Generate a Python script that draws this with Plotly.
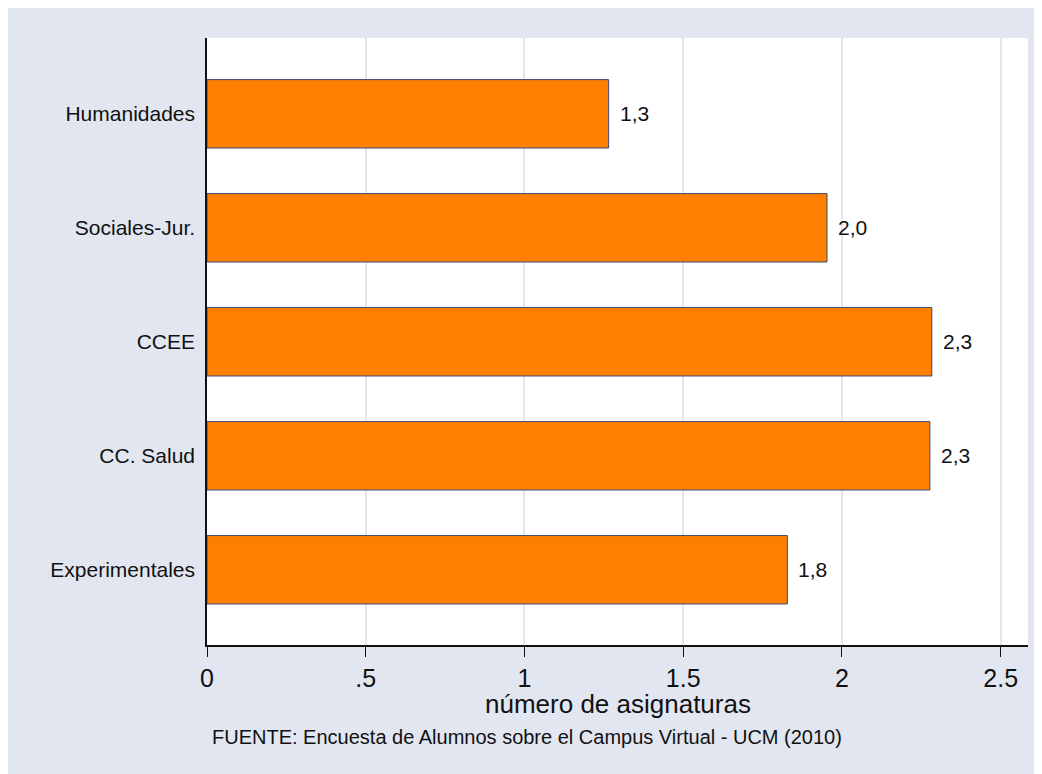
# Horizontal bar chart: average number of subjects per field (UCM 2010)
import plotly.graph_objects as go

# ==== Data ====
areas = ["Humanidades", "Sociales-Jur.", "CCEE", "CC. Salud", "Experimentales"]
asignaturas = [1.265, 1.953, 2.283, 2.277, 1.828]
etiquetas = ["1,3", "2,0", "2,3", "2,3", "1,8"]
x_ticks = [0, 0.5, 1, 1.5, 2, 2.5]
x_tick_labels = ["0", ".5", "1", "1.5", "2", "2.5"]

# ==== Style ====
FONT = "Arial, Liberation Sans, sans-serif"
BG = "#e2e6f0"
ORANGE = "#ff8000"

fig = go.Figure()
fig.add_trace(go.Bar(
    x=asignaturas, y=areas, orientation="h",
    width=0.6,
    marker=dict(color=ORANGE, line=dict(color="#3a4a78", width=1)),
    hoverinfo="x+y",
))

# value labels to the right of each bar
for area, val, lbl in zip(areas, asignaturas, etiquetas):
    fig.add_annotation(x=val, y=area, text=lbl, showarrow=False,
                       xanchor="left", xshift=9,
                       font=dict(family=FONT, size=21, color="#111"))

# axis title and source note
fig.add_annotation(x=0.5, y=-0.0965, xref="paper", yref="paper",
                   text="número de asignaturas", showarrow=False,
                   xanchor="center", yanchor="middle",
                   font=dict(family=FONT, size=26, color="#111"))
fig.add_annotation(x=0.004, y=-0.1516, xref="paper", yref="paper",
                   text="FUENTE: Encuesta de Alumnos sobre el Campus Virtual - UCM (2010)",
                   showarrow=False, xanchor="left", yanchor="middle",
                   font=dict(family=FONT, size=20, color="#111"))

# figure sized so that, with the page margin, it fills the window exactly
fig.update_layout(
    width=1034, height=766,
    margin=dict(l=199, r=14, t=30, b=129),
    paper_bgcolor=BG, plot_bgcolor="white",
    showlegend=False,
    font=dict(family=FONT, color="#111"),
)
fig.update_xaxes(
    range=[0, 2.586],
    tickvals=x_ticks, ticktext=x_tick_labels,
    tickfont=dict(size=25),
    ticks="outside", ticklen=10, tickcolor="#111", tickwidth=1.3,
    showgrid=True, gridcolor=BG, gridwidth=2,
    showline=True, linecolor="#111", linewidth=1.5,
    zeroline=False,
)
fig.update_yaxes(
    categoryorder="array", categoryarray=areas,
    range=[4.66, -0.665],
    tickfont=dict(size=21),
    ticks="", ticklabelstandoff=6,
    showgrid=False,
    showline=True, linecolor="#111", linewidth=1.5,
    zeroline=False,
)

fig.write_html("out.html")
